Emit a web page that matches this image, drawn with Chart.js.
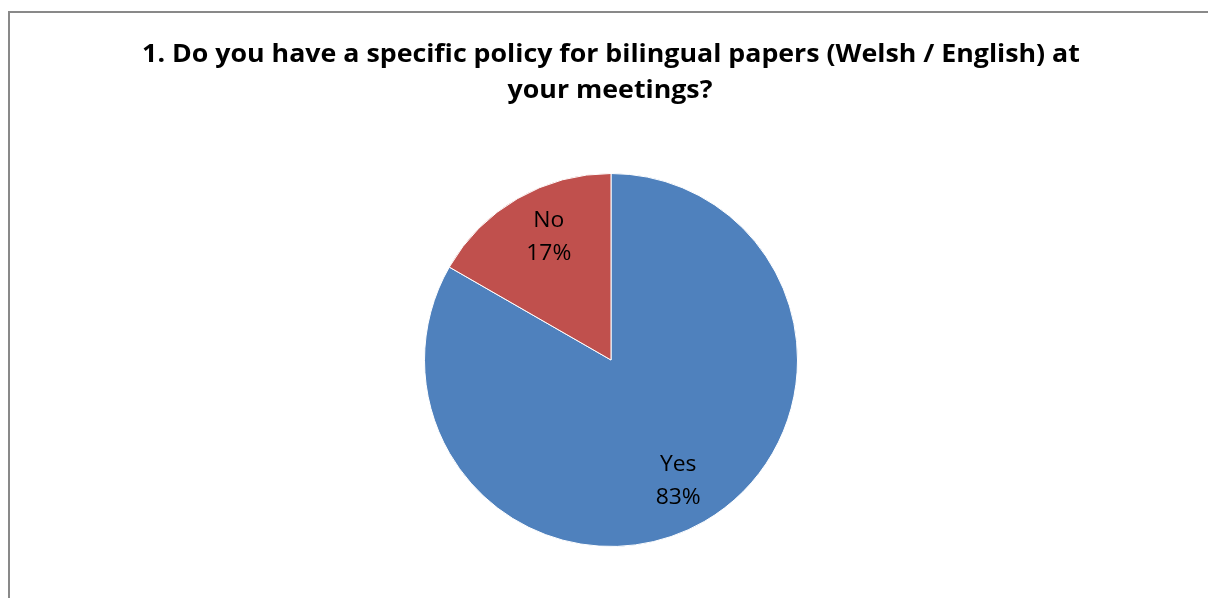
<!DOCTYPE html>
<html>
<head>
<meta charset="utf-8">
<title>Bilingual papers policy</title>
<script src="https://cdn.jsdelivr.net/npm/chart.js@4/dist/chart.umd.min.js"></script>
<style>
    html, body { margin: 0; padding: 0; background: #fff; }
    #wrap { position: relative; width: 1208px; height: 598px; overflow: hidden; }
    #frame {
        position: absolute; left: 8px; top: 11px; width: 1300px; height: 700px;
        border-left: 2px solid #898989; border-top: 2px solid #898989;
    }
    canvas { position: absolute; left: 0; top: 0; }
</style>
</head>
<body>
<div id="wrap">
    <div id="frame"></div>
    <canvas id="pie" width="1208" height="598"></canvas>
</div>
<script>
const titleLines = [
    '1. Do you have a specific policy for bilingual papers (Welsh / English) at',
    'your meetings?'
];
const categories = ['Yes', 'No'];
const shares = [83.3, 16.7];
const sliceColors = ['#4F81BD', '#C0504D'];

// small pixel nudges for the labels, so they sit where the original put them
const labelNudge = [[-1, 1], [6, -7]];

// draw text centred at x but stretched sideways by sx
function wideText(ctx, text, x, y, sx) {
    ctx.save();
    ctx.translate(x, y);
    ctx.scale(sx, 1);
    ctx.fillText(text, 0, 0);
    ctx.restore();
}

// title and the two-line slice labels, drawn straight onto the canvas
const textPlugin = {
    id: 'pieText',
    afterDraw(chart) {
        const ctx = chart.ctx;
        ctx.save();
        ctx.fillStyle = '#000';
        ctx.textAlign = 'center';
        ctx.textBaseline = 'alphabetic';

        ctx.font = 'bold 25px "Open Sans"';
        wideText(ctx, titleLines[0], 611, 62, 1.07);
        wideText(ctx, titleLines[1], 610, 98, 1.07);

        const total = shares.reduce((a, b) => a + b, 0);
        ctx.font = '22px "Open Sans"';
        chart.getDatasetMeta(0).data.forEach((arc, i) => {
            const mid = (arc.startAngle + arc.endAngle) / 2;
            const r = arc.outerRadius * 0.73;
            const x = arc.x + Math.cos(mid) * r + labelNudge[i][0];
            const y = arc.y + Math.sin(mid) * r + labelNudge[i][1];
            const pct = Math.round(shares[i] / total * 100) + '%';
            wideText(ctx, categories[i], x, y - 8, 1.04);
            wideText(ctx, pct, x, y + 25, 1.04);
        });
        ctx.restore();
    }
};

new Chart(document.getElementById('pie'), {
    type: 'pie',
    data: {
        labels: categories,
        datasets: [{
            data: shares,
            backgroundColor: sliceColors,
            borderColor: '#ffffff',
            borderWidth: 1,
            hoverOffset: 0,
            offset: 0
        }]
    },
    options: {
        responsive: false,
        animation: false,
        devicePixelRatio: 1,
        layout: { padding: { top: 173, bottom: 51, left: 14, right: 0 } },
        plugins: {
            legend: { display: false },
            tooltip: { enabled: false }
        }
    },
    plugins: [textPlugin]
});
</script>
</body>
</html>
